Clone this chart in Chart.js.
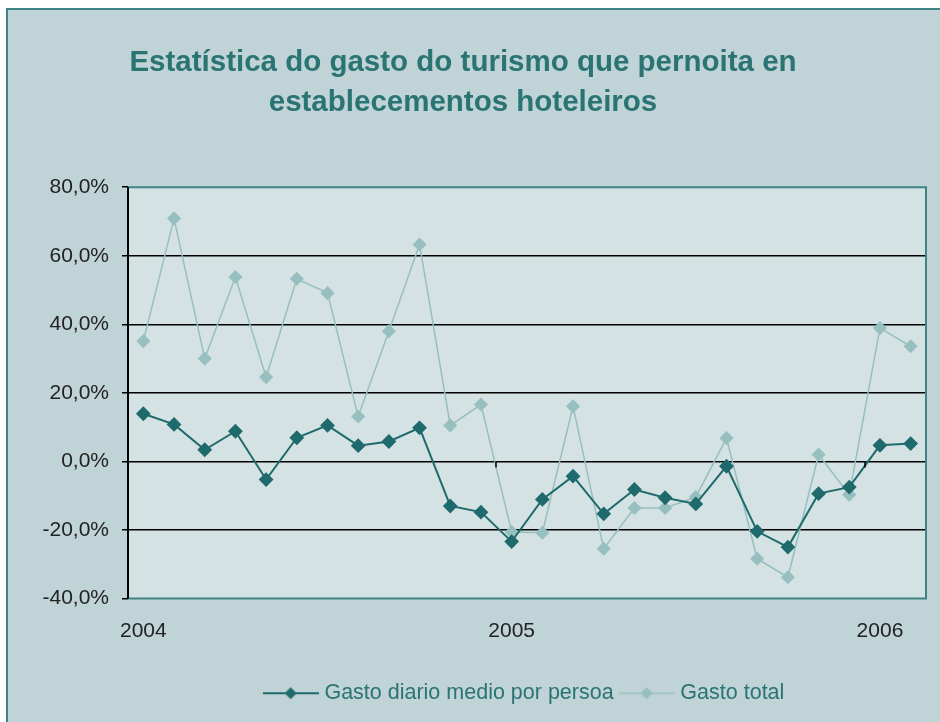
<!DOCTYPE html>
<html>
<head>
<meta charset="utf-8">
<script src="https://cdn.jsdelivr.net/npm/chart.js@4.4.1/dist/chart.umd.min.js"></script>
<style>
  html, body { margin: 0; padding: 0; background: #fff; width: 940px; height: 722px; overflow: hidden; }
  #frame { position: absolute; left: 6px; top: 8px; width: 960px; height: 740px;
           background: #c0d3d6; border-left: 2px solid #3f8484; border-top: 2px solid #3f8484; }
  #wrap { position: absolute; left: 0; top: 0; width: 940px; height: 722px; }
</style>
</head>
<body>
<div id="frame"></div>
<div id="wrap"><canvas id="chart" width="940" height="722"></canvas></div>
<script>
// monthly series, Jan 2004 - Feb 2006
const months = [
  '2004-01', '2004-02', '2004-03', '2004-04', '2004-05', '2004-06',
  '2004-07', '2004-08', '2004-09', '2004-10', '2004-11', '2004-12',
  '2005-01', '2005-02', '2005-03', '2005-04', '2005-05', '2005-06',
  '2005-07', '2005-08', '2005-09', '2005-10', '2005-11', '2005-12',
  '2006-01', '2006-02'
];
const gastoDiario = [
  13.9, 10.8, 3.4, 8.8, -5.3, 6.9, 10.5, 4.6, 5.8, 9.8, -13.0, -14.8,
  -23.4, -11.1, -4.3, -15.3, -8.2, -10.6, -12.4, -1.4, -20.4, -25.0,
  -9.4, -7.5, 4.7, 5.2
];
const gastoTotal = [
  35.1, 70.9, 30.0, 53.8, 24.6, 53.3, 49.1, 13.1, 38.0, 63.3, 10.5, 16.6,
  -20.6, -20.8, 16.1, -25.5, -13.6, -13.6, -10.4, 6.8, -28.4, -33.8,
  2.0, -9.7, 38.9, 33.6
];
const yTicks = [-40, -20, 0, 20, 40, 60, 80];

const DARK = '#1f6a6c';
const LIGHT = '#97bfc0';
const TEAL = '#3f8484';
const TEXT_TEAL = '#2b7474';
const FONT = 'Liberation Sans, Arial, sans-serif';

function legendIcon(color, lw) {
  const c = document.createElement('canvas');
  c.width = 56; c.height = 14;
  const g = c.getContext('2d');
  g.strokeStyle = color;
  g.lineWidth = lw;
  g.beginPath(); g.moveTo(0, 7); g.lineTo(56, 7); g.stroke();
  g.fillStyle = color;
  g.beginPath(); g.moveTo(28, 1); g.lineTo(34, 7); g.lineTo(28, 13); g.lineTo(22, 7); g.closePath(); g.fill();
  return c;
}

const plotFrame = {
  id: 'plotFrame',
  beforeDraw(chart) {
    const a = chart.chartArea, ctx = chart.ctx;
    ctx.save();
    ctx.fillStyle = '#d4e2e3';
    ctx.fillRect(a.left, a.top, a.right - a.left, a.bottom - a.top);
    ctx.restore();
  },
  afterDatasetsDraw(chart) {
    const a = chart.chartArea, ctx = chart.ctx;
    const x = chart.scales.x, y = chart.scales.y;
    ctx.save();
    ctx.strokeStyle = TEAL;
    ctx.lineWidth = 2;
    ctx.beginPath();
    ctx.moveTo(a.left, a.top); ctx.lineTo(a.right, a.top);
    ctx.lineTo(a.right, a.bottom); ctx.lineTo(a.left, a.bottom);
    ctx.stroke();
    ctx.strokeStyle = '#000';
    ctx.lineWidth = 2;
    ctx.beginPath(); ctx.moveTo(a.left, a.top); ctx.lineTo(a.left, a.bottom); ctx.stroke();
    // category tick marks on the zero line
    const half = (x.getPixelForValue(1) - x.getPixelForValue(0)) / 2;
    const y0 = y.getPixelForValue(0);
    ctx.lineWidth = 1.5;
    [12, 24].forEach(i => {
      const px = Math.round(x.getPixelForValue(i) - half);
      ctx.beginPath(); ctx.moveTo(px, y0); ctx.lineTo(px, y0 + 6); ctx.stroke();
    });
    ctx.restore();
  },
  afterLayout(chart) {
    // legend sits centred under the plot, not the canvas
    const d = 63;
    chart.legend.left += d;
    chart.legend.right += d;
  }
};

new Chart(document.getElementById('chart'), {
  type: 'line',
  data: {
    labels: months,
    datasets: [
      {
        label: 'Gasto diario medio por persoa',
        data: gastoDiario,
        borderColor: DARK,
        backgroundColor: DARK,
        borderWidth: 2,
        pointStyle: 'rectRot',
        pointRadius: 6,
        pointHoverRadius: 6,
        tension: 0
      },
      {
        label: 'Gasto total',
        data: gastoTotal,
        borderColor: LIGHT,
        backgroundColor: LIGHT,
        borderWidth: 1.5,
        pointStyle: 'rectRot',
        pointRadius: 6,
        pointHoverRadius: 6,
        tension: 0
      }
    ]
  },
  options: {
    responsive: false,
    animation: false,
    layout: { padding: { left: 0, right: 14, top: 0, bottom: 8 } },
    plugins: {
      title: {
        display: true,
        text: ['Estatística do gasto do turismo que pernoita en', 'establecementos hoteleiros'],
        color: TEXT_TEAL,
        font: { family: FONT, size: 29.5, weight: 'bold', lineHeight: 1.36 },
        padding: { top: 43, bottom: 64 }
      },
      legend: {
        position: 'bottom',
        labels: {
          color: TEXT_TEAL,
          font: { family: FONT, size: 21.5 },
          usePointStyle: true,
          pointStyleWidth: 46,
          padding: 10,
          generateLabels(chart) {
            return chart.data.datasets.map((ds, i) => ({
              text: ds.label,
              datasetIndex: i,
              fontColor: TEXT_TEAL,
              pointStyle: legendIcon(ds.borderColor, i === 0 ? 2 : 1.5),
              hidden: false,
              lineWidth: 0
            }));
          }
        }
      },
      tooltip: { enabled: false }
    },
    scales: {
      x: {
        offset: true,
        grid: { display: false, drawTicks: false },
        border: { display: false },
        ticks: {
          autoSkip: false,
          maxRotation: 0,
          padding: 20,
          color: '#222',
          font: { family: FONT, size: 21 },
          callback(v, i) { return i % 12 === 0 ? months[i].slice(0, 4) : ''; }
        },
        afterFit(scale) { scale.height = 74; }
      },
      y: {
        min: -40,
        max: 80,
        afterBuildTicks(scale) { scale.ticks = yTicks.map(v => ({ value: v })); },
        grid: {
          color: ctx => (ctx.tick.value === 80 || ctx.tick.value === -40) ? 'rgba(0,0,0,0)' : '#000',
          tickColor: '#000',
          lineWidth: 1.5,
          tickLength: 6
        },
        border: { display: false },
        ticks: {
          padding: 13,
          color: '#222',
          font: { family: FONT, size: 21 },
          callback(v) { return v.toFixed(1).replace('.', ',') + '%'; }
        },
        afterFit(scale) { scale.width = 128; }
      }
    }
  },
  plugins: [plotFrame]
});
</script>
</body>
</html>
